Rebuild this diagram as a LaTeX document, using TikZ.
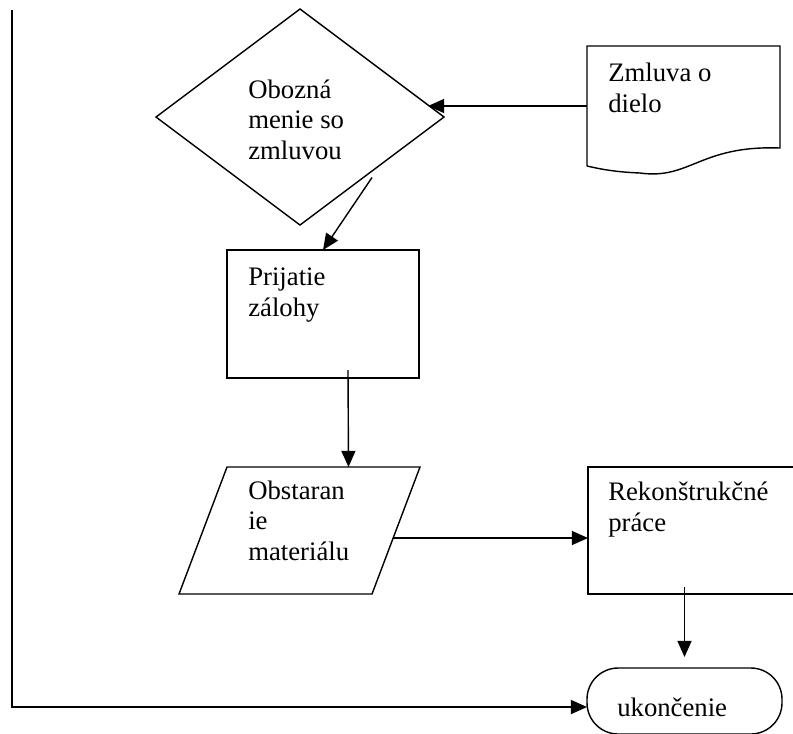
\documentclass[tikz,border=0pt]{standalone}
\usepackage{fontspec}
\setmainfont{Liberation Serif}
\usetikzlibrary{arrows.meta,calc,shapes.geometric}

\def\u{0.025cm}
\tikzset{
  flow/.style={draw=black,line width=1pt},
  arr/.style={flow,-{Triangle[length=11.5pt,width=10pt]}},
  frame/.style={inner sep=0pt,outer sep=0pt},
  lbl/.style={anchor=base west,align=left,inner sep=0pt,
              font=\fontsize{19}{21.5}\selectfont}
}

\begin{document}
\begin{tikzpicture}[x=\u,y=-\u]
  \useasboundingbox (0,0) rectangle (793,733);
  \clip (0,0) rectangle (793,733);

  % shapes, 1 unit = 1 px of the page
  \node[diamond,flow,frame,minimum width=288*\u,minimum height=216*\u] (obozna) at (300,117) {};
  \node[frame,minimum width=193*\u,minimum height=120*\u] (zmluva) at (683.5,106) {};
  \draw[flow] (zmluva.south west) -- (zmluva.north west) -- (zmluva.north east) -- ++(0,102)
       .. controls +(-80,-3) and +(50,7) .. ++(-140,25)
       .. controls +(-25,-1) and +(13,3) .. (zmluva.south west);
  \node[rectangle,flow,frame,minimum width=192*\u,minimum height=128*\u] (prijatie) at (323,314) {};
  \node[frame,minimum width=193*\u,minimum height=127*\u] (obstar) at (323.5,530.5) {};
  \draw[flow] (obstar.north west) -- (obstar.north east) -- ([xshift=-48*\u]obstar.south east)
       -- ([xshift=-48*\u]obstar.south west) -- cycle;
  \node[rectangle,flow,frame,minimum width=232*\u,minimum height=127*\u] (rekon) at (704,530.5) {};
  \node[rectangle,flow,frame,rounded corners=0.78cm,minimum width=195*\u,minimum height=66*\u] (konec) at (684.5,701) {};

  % texts (placed by the baseline of their last line)
  \node[lbl] (t-obozna) at (248,159) {Obozná\\menie so\\zmluvou};
  \node[lbl] (t-zmluva) at (608,112) {Zmluva o\\dielo};
  \node[lbl] (t-prijatie) at (248,316) {Prijatie\\zálohy};
  \node[lbl] (t-obstar) at (248,560) {Obstaran\\ie\\materiálu};
  \node[lbl] (t-rekon) at (608,531) {Rekonštrukčné\\práce};
  \node[lbl] (t-konec) at (617,716) {ukončenie};

  % connectors
  \draw[arr] (zmluva.west) -- ($(zmluva.west -| obozna.east)+(-16,0)$);
  \draw[arr] ([yshift=-6.5*\u]obozna.south east) -- (prijatie.north);
  \draw[arr] ([shift={(25,-8)}]prijatie.south) -- ([xshift=25*\u]obstar.north);
  \draw[arr] ([shift={(-27,7.5)}]obstar.east) -- ([yshift=-7.5*\u]rekon.west);
  \draw[arr] ([yshift=81*\u]konec.north) -- ([yshift=11*\u]konec.north);
  \coordinate (start) at (12,10);
  \draw[arr,line width=1.2pt] (start) |- ([yshift=-6*\u]konec.west);
\end{tikzpicture}
\end{document}
